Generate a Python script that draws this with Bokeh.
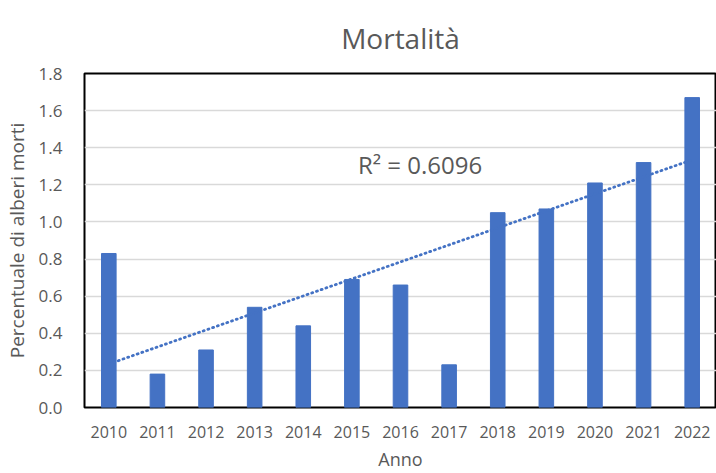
import numpy as np
from bokeh.plotting import figure
from bokeh.models import FixedTicker, Range1d, FactorRange, NumeralTickFormatter
from bokeh.core.properties import value
from bokeh.embed import file_html
from bokeh.resources import INLINE

years = ["2010", "2011", "2012", "2013", "2014", "2015", "2016",
         "2017", "2018", "2019", "2020", "2021", "2022"]
mortality = [0.83, 0.18, 0.31, 0.54, 0.44, 0.69, 0.66,
             0.23, 1.05, 1.07, 1.21, 1.32, 1.67]
y_ticks = [0.0, 0.2, 0.4, 0.6, 0.8, 1.0, 1.2, 1.4, 1.6, 1.8]
r2_text = "R² = 0.6096"

FONT = "Open Sans"
GREY = "#595959"
BLUE = "#4472C4"

# linear trend fitted to the bar values (Excel-style linear trendline)
idx = np.arange(1, len(mortality) + 1)
slope, intercept = np.polyfit(idx, mortality, 1)
trend = list(slope * idx + intercept)

p = figure(width=716, height=473, x_range=FactorRange(*years, range_padding=0),
           y_range=Range1d(0, 1.8), output_backend="svg", toolbar_location=None,
           title="Mortalità", min_border_left=82, min_border_right=0,
           min_border_top=73, min_border_bottom=65)

p.vbar(x=years, top=mortality, width=0.3, color=BLUE)
p.line(x=years, y=trend, line_color=BLUE, line_width=2.8, line_dash="1 4", line_cap="round")
p.text(x=["2015"], y=[1.31], text=[r2_text], x_offset=6, text_align="left",
       text_baseline="middle", text_font=value(FONT), text_font_size="24px", text_color=GREY)

p.title.text_font = FONT
p.title.text_font_size = "28px"
p.title.text_font_style = "normal"
p.title.text_color = GREY
p.title.align = "center"
p.title.text_line_height = 1.0
p.title.standoff = 33
p.title.offset = -34

p.outline_line_color = "black"
p.outline_line_width = 2

p.yaxis.ticker = FixedTicker(ticks=y_ticks)
p.yaxis.formatter = NumeralTickFormatter(format="0.0")
p.yaxis.axis_label = "Percentuale di alberi morti"
p.xaxis.axis_label = "Anno"
for ax in (p.xaxis, p.yaxis):
    ax.axis_line_color = None
    ax.major_tick_line_color = None
    ax.minor_tick_line_color = None
    ax.major_label_text_font = FONT
    ax.major_label_text_font_size = "17px"
    ax.major_label_text_color = GREY
    ax.axis_label_text_font = FONT
    ax.axis_label_text_font_size = "19px"
    ax.axis_label_text_font_style = "normal"
    ax.axis_label_text_color = GREY
p.xaxis.major_label_text_font_size = "16px"
p.yaxis.major_label_standoff = 16
p.yaxis.axis_label_standoff = 6
p.xaxis.major_label_standoff = 12
p.xaxis.axis_label_standoff = 6
p.xaxis.axis_label_text_font_size = "18px"

p.xgrid.grid_line_color = None
p.ygrid.grid_line_color = "#D9D9D9"
p.ygrid.grid_line_width = 1.5

open("out.html", "w").write(file_html(p, INLINE))
